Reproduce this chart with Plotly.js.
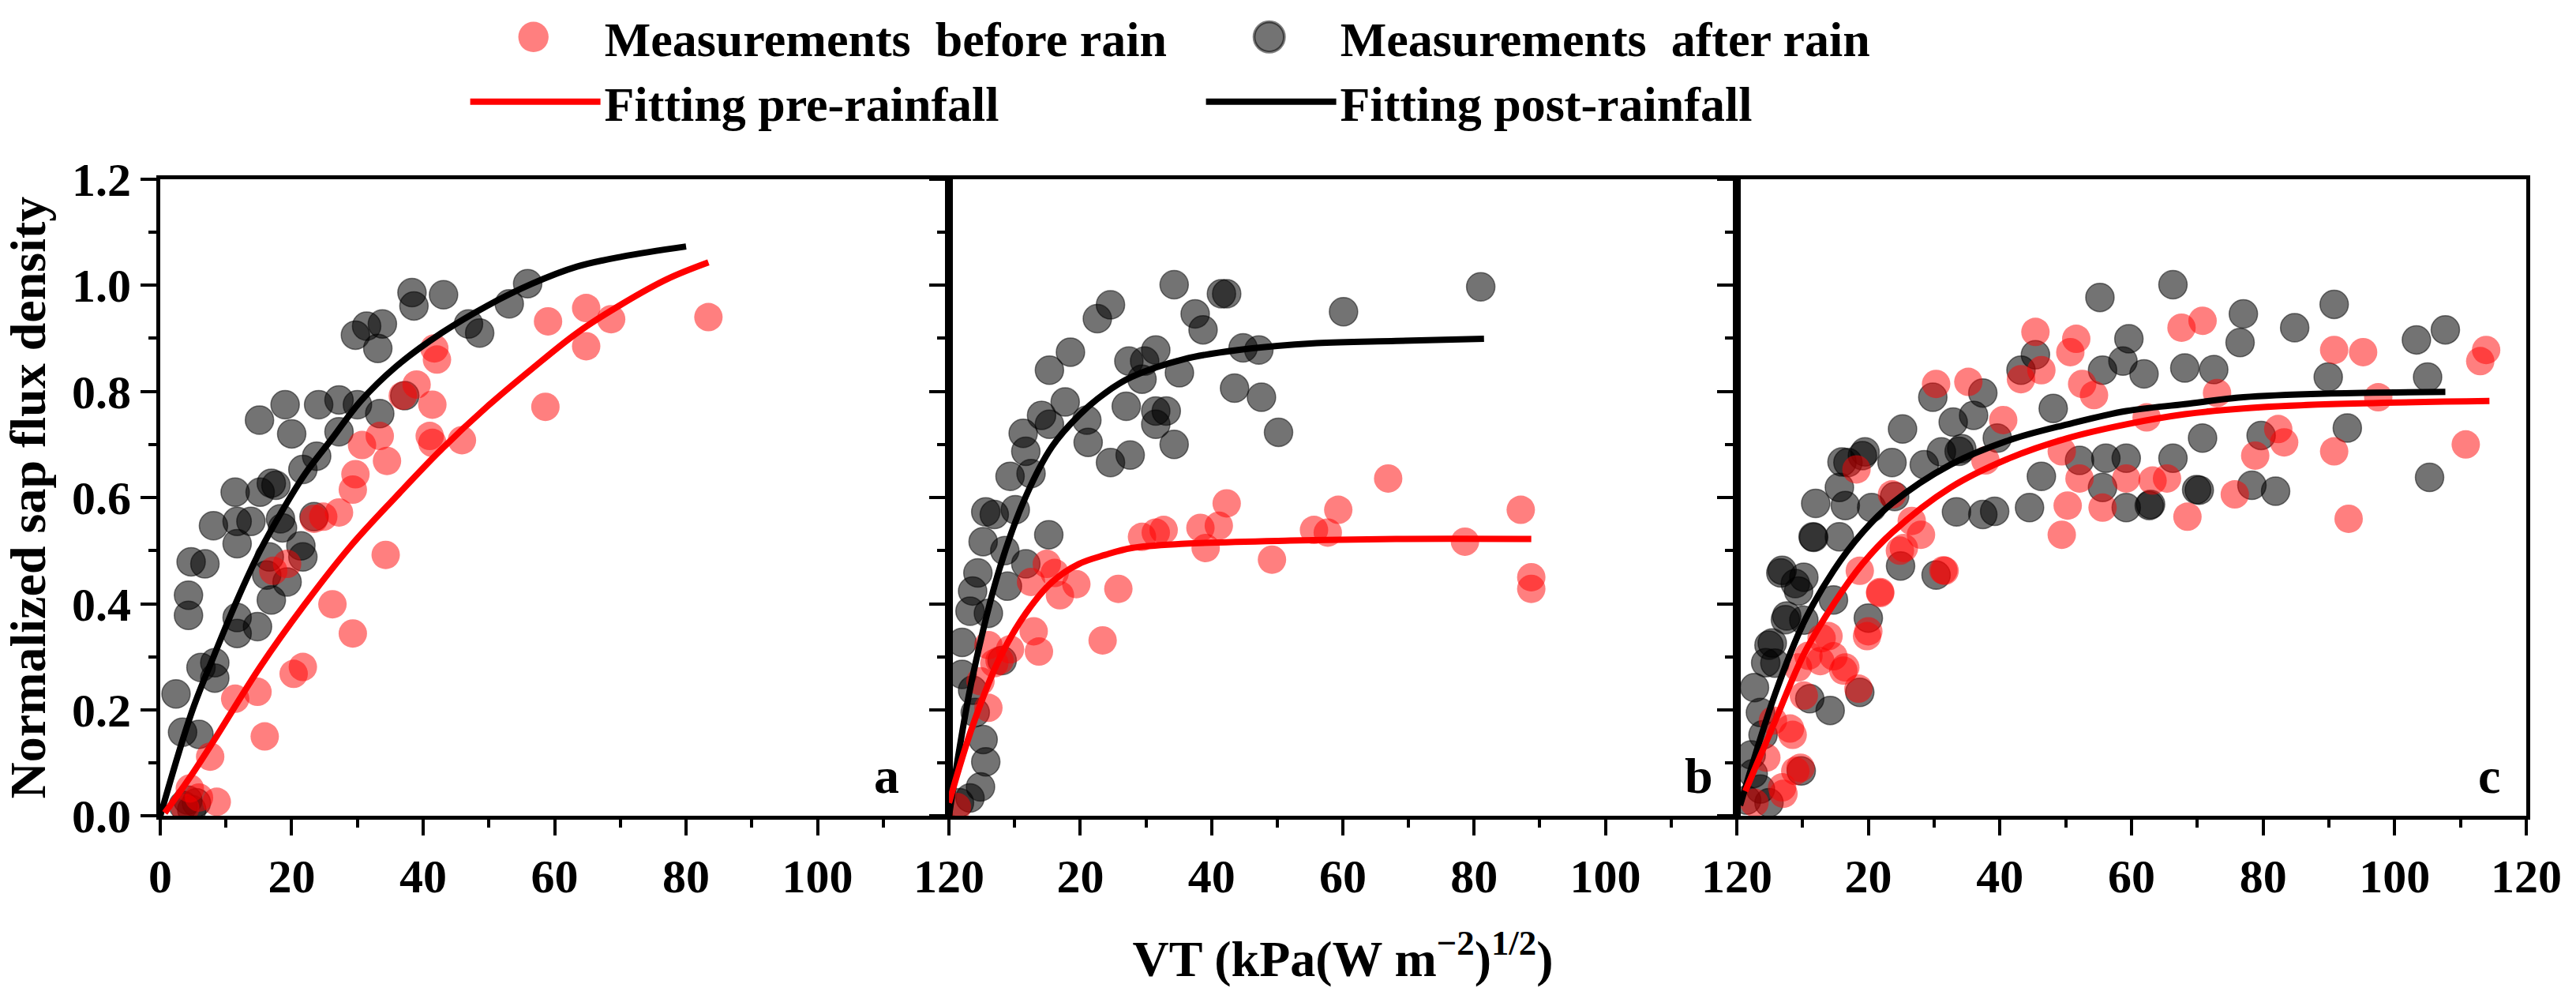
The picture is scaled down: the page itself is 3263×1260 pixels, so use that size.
<!DOCTYPE html>
<html>
<head>
<meta charset="utf-8">
<script src="https://cdn.plot.ly/plotly-3.0.1.min.js"></script>
<style>
  html, body { margin: 0; padding: 0; background: #fff; }
  #chart { width: 3263px; height: 1260px; }
</style>
</head>
<body>
<div id="chart"></div>
<script>
// panel a: measurements
const aBeforeX = [4.5, 5.9, 8.6, 7.6, 11.4, 14.8, 15.9, 20.3, 21.7, 26.2, 29.3, 34.3, 24.8, 27.2, 29.7, 29.3, 30.7, 33.4, 34.5, 39, 41.4, 41, 41.4, 41.7, 42.1, 45.9, 58.6, 59, 64.8, 64.8, 68.6, 83.4, 17.2, 19.3, 23.4, 36.9, 3.8];
const aBeforeY = [0.052, 0.035, 0.027, 0.112, 0.221, 0.234, 0.15, 0.268, 0.281, 0.399, 0.344, 0.492, 0.564, 0.572, 0.644, 0.615, 0.699, 0.716, 0.669, 0.813, 0.775, 0.716, 0.703, 0.881, 0.86, 0.708, 0.771, 0.932, 0.957, 0.885, 0.936, 0.94, 0.462, 0.475, 0.56, 0.792, 0.015];
const aAfterX = [2.4, 3.4, 5.9, 4.3, 4.3, 4.7, 6.8, 6.2, 8.3, 8.3, 8.1, 11.4, 11.7, 11.7, 13.8, 11.7, 11.7, 14.8, 15.2, 16.9, 17.6, 15.1, 19, 20, 18.3, 18.6, 21.4, 21.7, 16.6, 16.2, 16.9, 19.3, 21.7, 23.8, 24.1, 23.4, 27.2, 27.2, 30, 29.7, 31.4, 33.8, 33.1, 33.4, 37.2, 38.3, 38.6, 43.1, 46.9, 48.6, 53.1, 55.9, 3.5, 4.2, 4.8, 5.5];
const aAfterY = [0.23, 0.158, 0.154, 0.416, 0.378, 0.479, 0.475, 0.28, 0.289, 0.26, 0.547, 0.61, 0.555, 0.513, 0.555, 0.374, 0.344, 0.357, 0.61, 0.627, 0.623, 0.746, 0.775, 0.72, 0.56, 0.543, 0.509, 0.488, 0.488, 0.454, 0.407, 0.441, 0.653, 0.678, 0.775, 0.564, 0.784, 0.724, 0.775, 0.906, 0.923, 0.927, 0.881, 0.758, 0.792, 0.986, 0.961, 0.982, 0.927, 0.91, 0.965, 1.003, 0.02, 0.03, 0.012, 0.025];

// panel a: fitted curves
const aPreX = [0.7, 4.8, 8.3, 15.2, 22, 29, 35.9, 42.8, 49.7, 56.6, 63.4, 70.3, 77.2, 83.4];
const aPreY = [0.006, 0.078, 0.145, 0.281, 0.399, 0.509, 0.602, 0.691, 0.771, 0.843, 0.91, 0.965, 1.012, 1.043];
const aPostX = [0, 4.8, 8.3, 11.7, 15.2, 18.6, 22, 26.2, 30.3, 35.9, 42.8, 49.7, 56.6, 63.4, 70.3, 80];
const aPostY = [0, 0.196, 0.306, 0.407, 0.5, 0.576, 0.644, 0.712, 0.779, 0.847, 0.91, 0.961, 1.003, 1.035, 1.054, 1.073];

// panel b: measurements
const bBeforeX = [66.9, 42.3, 59.3, 87.1, 31.5, 32.7, 38.3, 41.1, 39.1, 55.6, 57.7, 78.6, 29.4, 49.2, 88.7, 88.7, 14.9, 16.1, 19.4, 16.9, 12.5, 25.8, 23.4, 12.9, 13.7, 9.3, 7.7, 6, 6, 4.8, 1.2, 6.9];
const bBeforeY = [0.636, 0.589, 0.577, 0.577, 0.534, 0.539, 0.543, 0.547, 0.505, 0.539, 0.534, 0.517, 0.526, 0.483, 0.45, 0.428, 0.475, 0.458, 0.437, 0.416, 0.441, 0.428, 0.331, 0.348, 0.31, 0.314, 0.293, 0.322, 0.204, 0.254, 0.017, 0.288];
const bAfterX = [34.3, 81, 41.5, 42.3, 24.6, 22.6, 60.1, 37.5, 38.7, 18.5, 15.3, 27.4, 31.5, 29.8, 35.1, 29.4, 44.8, 47.2, 43.5, 47.6, 50.2, 17.7, 14.1, 15.3, 21, 27, 31.5, 33.1, 31.5, 34.3, 21.2, 24.6, 27.6, 11.3, 11.7, 9.3, 12.5, 5.6, 6.9, 10.1, 5.2, 8.5, 15.2, 4.4, 3.6, 3.2, 6, 2, 8.1, 2, 3.6, 4, 5.2, 5.6, 4.8, 1.6, 3.2, 11.7, 8.9];
const bAfterY = [1.001, 0.997, 0.984, 0.984, 0.963, 0.937, 0.95, 0.946, 0.916, 0.874, 0.84, 0.857, 0.878, 0.857, 0.835, 0.823, 0.882, 0.878, 0.806, 0.789, 0.723, 0.78, 0.755, 0.738, 0.746, 0.772, 0.763, 0.763, 0.738, 0.7, 0.704, 0.666, 0.68, 0.721, 0.687, 0.64, 0.645, 0.573, 0.568, 0.577, 0.517, 0.5, 0.53, 0.458, 0.424, 0.386, 0.382, 0.327, 0.293, 0.267, 0.237, 0.195, 0.144, 0.102, 0.055, 0.025, 0.034, 0.475, 0.433];

// panel b: fitted curves
const bPreX = [0, 3.6, 7.7, 11.7, 15.7, 19.8, 23.8, 27.8, 35.9, 52, 68.1, 88.7];
const bPreY = [0.025, 0.17, 0.297, 0.382, 0.441, 0.475, 0.492, 0.505, 0.513, 0.519, 0.522, 0.522];
const bPostX = [0, 1.5, 3.6, 7.7, 11.7, 15.7, 19.8, 23.8, 27.8, 35.9, 44, 56, 68.1, 81.5];
const bPostY = [0, 0.12, 0.263, 0.466, 0.602, 0.696, 0.755, 0.797, 0.827, 0.861, 0.878, 0.891, 0.895, 0.899];

// panel c: measurements
const cBeforeX = [45.4, 51.6, 50.7, 67.6, 70.8, 90.8, 95.2, 113.9, 113, 43.2, 52.5, 54.3, 30.3, 35.2, 46.3, 73, 97.5, 40.5, 62.3, 82.3, 83.2, 78.8, 90.8, 110.8, 49.4, 52.1, 59.2, 63.2, 65.4, 50.3, 55.6, 68.5, 75.7, 93, 49.4, 28, 25.4, 31.6, 21.8, 20, 16.5, 14.7, 18.7, 12.9, 9.3, 8.5, 8.9, 7.1, 2.7, 23.6, 37.8, 18.2,
  24.8, 31.4, 21.8, 19.8, 16.2, 18.5, 12.7, 10.2, 8.1, 9.7, 6.9, 26.6, 10.9, 13.95, 4.5, 5.5];
const cBeforeY = [0.912, 0.899, 0.874, 0.92, 0.933, 0.878, 0.874, 0.878, 0.857, 0.823, 0.814, 0.793, 0.814, 0.818, 0.84, 0.797, 0.789, 0.746, 0.751, 0.729, 0.704, 0.679, 0.687, 0.7, 0.687, 0.636, 0.636, 0.632, 0.636, 0.585, 0.581, 0.564, 0.606, 0.56, 0.53, 0.53, 0.505, 0.462, 0.42, 0.348, 0.28, 0.301, 0.462, 0.335, 0.28, 0.153, 0.085, 0.042, 0.025, 0.606, 0.67, 0.653,
  0.5, 0.463, 0.422, 0.339, 0.274, 0.24, 0.292, 0.227, 0.165, 0.091, 0.054, 0.556, 0.302, 0.339, 0.11, 0.18];
const cAfterX = [66.3, 55.2, 90.8, 77, 84.8, 107.7, 103.3, 76.5, 59.6, 58.7, 68.1, 72.5, 61.9, 55.6, 89.9, 105, 45.4, 43.2, 37.4, 29.8, 36, 32.9, 25.2, 48.1, 92.8, 70.8, 79.7, 39.6, 33.8, 16.9, 19.1, 23.6, 28.5, 56.1, 59.2, 66.3, 52.1, 46.3, 12, 15.6, 16.5, 20.5, 24, 33.4, 37.4, 44.5, 59.2, 62.7, 69.9, 78.3, 81.9, 105.3, 55.6, 11.6, 15.6, 6.7, 10.2, 9.4, 24.9, 30.3, 7.6, 10.2, 4.9, 5.8, 2.7, 14.2, 11.1, 3.6, 4, 2.2, 9.8, 3.6, 4.9, 18.7, 20, 14.7,
  5.4, 4.4, 7.4, 8.9, 6.9, 11.7, 16, 19.5, 31.1, 34.2, 39.2, 62.9, 70.3, 1.5, 2.5];
const cAfterY = [1.001, 0.977, 0.964, 0.946, 0.92, 0.916, 0.897, 0.892, 0.899, 0.857, 0.844, 0.841, 0.833, 0.84, 0.827, 0.827, 0.869, 0.84, 0.797, 0.789, 0.755, 0.742, 0.729, 0.768, 0.731, 0.712, 0.717, 0.712, 0.687, 0.666, 0.679, 0.666, 0.662, 0.674, 0.674, 0.674, 0.67, 0.64, 0.589, 0.619, 0.585, 0.581, 0.602, 0.573, 0.568, 0.581, 0.581, 0.585, 0.615, 0.623, 0.612, 0.638, 0.619, 0.526, 0.526, 0.458, 0.45, 0.424, 0.471, 0.454, 0.377, 0.369, 0.322, 0.288, 0.242, 0.199, 0.221, 0.195, 0.153, 0.115, 0.085, 0.051, 0.025, 0.233, 0.373, 0.407,
  0.326, 0.289, 0.37, 0.438, 0.463, 0.525, 0.667, 0.686, 0.686, 0.692, 0.574, 0.587, 0.614, 0.03, 0.08];

// panel c: fitted curves
const cPreX = [1.3, 5.8, 10.2, 14.7, 19.1, 23.6, 32.5, 41.4, 50.3, 59.2, 68.1, 77, 90.3, 114.4];
const cPreY = [0.047, 0.178, 0.305, 0.399, 0.475, 0.534, 0.619, 0.674, 0.712, 0.738, 0.757, 0.768, 0.776, 0.782];
const cPostX = [0.5, 5.8, 10.2, 14.7, 19.1, 23.6, 32.5, 41.4, 50.3, 59.2, 68.1, 77, 90.3, 107.7];
const cPostY = [0.02, 0.229, 0.365, 0.462, 0.534, 0.589, 0.662, 0.708, 0.738, 0.763, 0.776, 0.789, 0.796, 0.799];

// panels b and c share their 0 with the 120 of the panel to their left
const xTickValsFirst = [0, 20, 40, 60, 80, 100, 120];
const xTickValsRest = [20, 40, 60, 80, 100, 120];
const panelLetters = ['a', 'b', 'c'];
const letterX = [110.5, 114.2, 114.4];

const serif = 'Liberation Serif';
const RED_PT = 'rgba(255,0,0,0.5)';
const BLACK_PT = 'rgba(0,0,0,0.55)';

function pointTrace(x, y, color, outline, ax, name, show) {
    return {
        x: x, y: y, xaxis: 'x' + ax, yaxis: 'y' + ax,
        type: 'scatter', mode: 'markers', name: name,
        legend: 'legend', legendgroup: name, showlegend: show,
        marker: { size: 36, color: color, line: { width: outline ? 1.5 : 0, color: 'rgba(0,0,0,0.5)' } }
    };
}

function fitTrace(x, y, color, ax, name, show) {
    return {
        x: x, y: y, xaxis: 'x' + ax, yaxis: 'y' + ax,
        type: 'scatter', mode: 'lines', name: name,
        legend: 'legend2', legendgroup: name, showlegend: show,
        line: { color: color, width: 8, shape: 'spline', smoothing: 1 }
    };
}

const before = 'Measurements\u00a0 before rain';
const after = 'Measurements\u00a0 after rain';
const pre = 'Fitting pre-rainfall';
const post = 'Fitting post-rainfall';

let data = [
    pointTrace(aAfterX, aAfterY, BLACK_PT, true, '', after, false),
    pointTrace(aBeforeX, aBeforeY, RED_PT, false, '', before, true),
    pointTrace(bAfterX, bAfterY, BLACK_PT, true, '2', after, false),
    pointTrace(bBeforeX, bBeforeY, RED_PT, false, '2', before, false),
    pointTrace(cAfterX, cAfterY, BLACK_PT, true, '3', after, true),
    pointTrace(cBeforeX, cBeforeY, RED_PT, false, '3', before, false),
    fitTrace(aPostX, aPostY, 'black', '', post, false),
    fitTrace(aPreX, aPreY, 'red', '', pre, true),
    fitTrace(bPostX, bPostY, 'black', '2', post, false),
    fitTrace(bPreX, bPreY, 'red', '2', pre, false),
    fitTrace(cPostX, cPostY, 'black', '3', post, true),
    fitTrace(cPreX, cPreY, 'red', '3', pre, false)
];
// legend order: red entry first on each row
data[1].legendrank = 1; data[4].legendrank = 2;
data[7].legendrank = 1; data[10].legendrank = 2;

const tickFont = { family: serif, size: 60, weight: 'bold', color: 'black' };
const titleFont = { family: serif, size: 64, weight: 'bold', color: 'black' };

function xAxis(domain, vals, title) {
    const ax = {
        domain: domain, range: [0, 120], tickmode: 'array', tickvals: vals,
        ticks: 'outside', ticklen: 20, tickwidth: 4, tickcolor: 'black',
        minor: { tickmode: 'linear', tick0: 0, dtick: 10, ticks: 'outside', ticklen: 10, tickwidth: 4, tickcolor: 'black', showgrid: false },
        showline: true, linewidth: 5, linecolor: 'black', mirror: true,
        showgrid: false, zeroline: false, tickfont: tickFont, fixedrange: true
    };
    if (title) {
        ax.title = { text: title, font: titleFont, standoff: 50 };
    }
    return ax;
}

function yAxis(domain, labels, anchor) {
    return {
        domain: domain, range: [0, 1.2], anchor: anchor, tickmode: 'linear', tick0: 0, dtick: 0.2,
        tickformat: '.1f', showticklabels: labels,
        ticks: 'outside', ticklen: 20, tickwidth: 4, tickcolor: 'black',
        minor: { tickmode: 'linear', tick0: 0, dtick: 0.1, ticks: 'outside', ticklen: 10, tickwidth: 4, tickcolor: 'black', showgrid: false },
        showline: true, linewidth: 5, linecolor: 'black', mirror: true,
        showgrid: false, zeroline: false, tickfont: tickFont, fixedrange: true
    };
}

const yDom = [0.1817, 0.8286];
const legendFont = { family: serif, size: 62, weight: 'bold', color: 'black' };

const layout = {
    width: 3263, height: 1260,
    margin: { l: 0, r: 0, t: 0, b: 0 },
    paper_bgcolor: 'white', plot_bgcolor: 'rgba(0,0,0,0)',
    showlegend: true,
    xaxis: xAxis([0.0622, 0.3684], xTickValsFirst, null),
    xaxis2: xAxis([0.3684, 0.6742], xTickValsRest, 'VT (kPa(W m<sup>\u22122</sup>)<sup>1/2</sup>)'),
    xaxis3: xAxis([0.6742, 0.9807], xTickValsRest, null),
    yaxis: yAxis(yDom, true, 'x'),
    yaxis2: yAxis(yDom, false, 'x2'),
    yaxis3: yAxis(yDom, false, 'x3'),
    legend: {
        orientation: 'h', x: 0.1795, y: 0.973, xanchor: 'left', yanchor: 'middle',
        font: legendFont, itemwidth: 170, entrywidth: 747,
        bgcolor: 'rgba(0,0,0,0)', traceorder: 'normal'
    },
    legend2: {
        orientation: 'h', x: 0.181, y: 0.907, xanchor: 'left', yanchor: 'middle',
        font: legendFont, itemwidth: 165, entrywidth: 752,
        bgcolor: 'rgba(0,0,0,0)', traceorder: 'normal'
    },
    annotations: panelLetters.map(function (t, i) {
        const s = i === 0 ? '' : String(i + 1);
        return {
            text: t, xref: 'x' + s, yref: 'y' + s, x: letterX[i], y: 0.02,
            xanchor: 'center', yanchor: 'bottom', showarrow: false,
            font: { family: serif, size: 64, weight: 'bold', color: 'black' }
        };
    })
};
layout.yaxis.title = { text: 'Normalized sap flux density', font: titleFont, standoff: 20 };

Plotly.newPlot('chart', data, layout, { staticPlot: true }).then(function () {
    // legend symbols are capped in size; bring them up to the plotted sizes
    document.querySelectorAll('.legendpoints path.scatterpts').forEach(function (p) {
        p.setAttribute('transform', (p.getAttribute('transform') || '') + ' scale(2.4)');
    });
    document.querySelectorAll('.legendlines path').forEach(function (p) {
        p.style.strokeWidth = '8px';
    });
});
</script>
</body>
</html>
